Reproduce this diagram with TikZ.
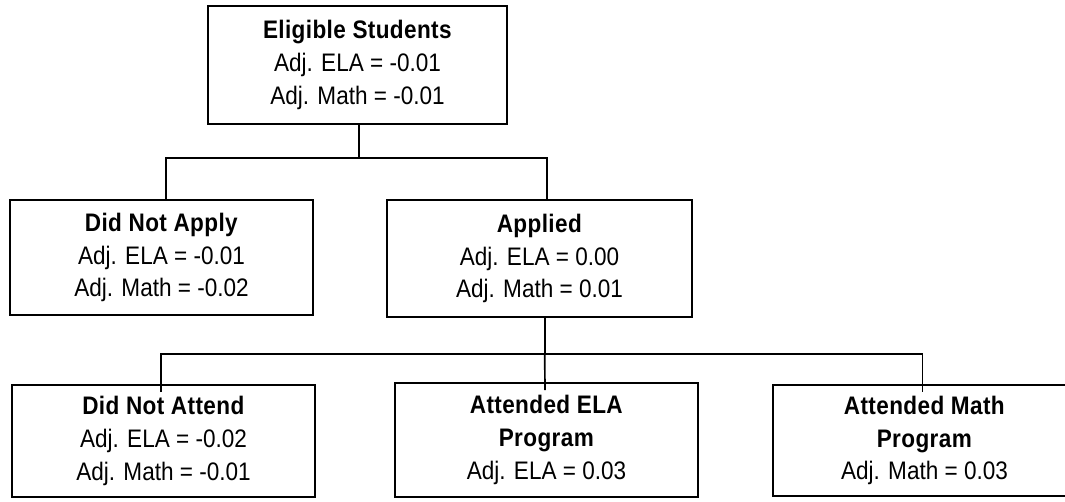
\documentclass[tikz,border=0pt]{standalone}
\usepackage{fontspec}
\setmainfont{Liberation Sans}[FakeStretch=0.89, BoldFeatures={LetterSpace=1.5}]
\tikzset{
    box/.style={draw, line width=1.3pt, align=center, minimum width=227pt, minimum height=86pt,
        font=\fontsize{19}{24.6}\selectfont},
    link/.style={line width=1.3pt}
}
\begin{document}
\begin{tikzpicture}[x=0.75pt, y=0.75pt]
    \useasboundingbox (0, 0) rectangle (1065, 502);
    \node[box, minimum width=224pt, minimum height=88.5pt] (elig) at (357.5, 437)
        {\textbf{Eligible Students}\\Adj. ELA = -0.01\\Adj. Math = -0.01};
    \node[box] (dna) at (161.5, 244.5) {\textbf{Did Not Apply}\\Adj. ELA = -0.01\\Adj. Math = -0.02};
    \node[box, minimum width=229pt, minimum height=88pt] (app) at (539.5, 243.5)
        {\textbf{Applied}\\Adj. ELA = 0.00\\Adj. Math = 0.01};
    \node[box, minimum height=84pt] (dnat) at (163.5, 61) {\textbf{Did Not Attend}\\Adj. ELA = -0.02\\Adj. Math = -0.01};
    \node[box, minimum height=85.5pt] (aela) at (546.5, 62) {\textbf{Attended ELA}\\\textbf{Program}\\Adj. ELA = 0.03};
    \node[box, minimum height=83pt] (amath) at (924.5, 61.5) {\textbf{Attended Math}\\\textbf{Program}\\Adj. Math = 0.03};
    \draw[link] ([xshift=1pt]elig.south) -- ++(0, -33) coordinate (top);
    \draw[link] ([xshift=3.4pt]dna.north) |- (top) -| ([xshift=5.6pt]app.north);
    \draw[link] ([xshift=4pt]app.south) -- ++(0, -36) coordinate (mid);
    \draw[link] ([xshift=-2pt, yshift=-6pt]dnat.north) |- (mid) -| ([xshift=-1.5pt, yshift=-6pt]amath.north);
    \draw[link] (mid) -- ([xshift=-1.2pt, yshift=-6pt]aela.north);
\end{tikzpicture}
\end{document}
